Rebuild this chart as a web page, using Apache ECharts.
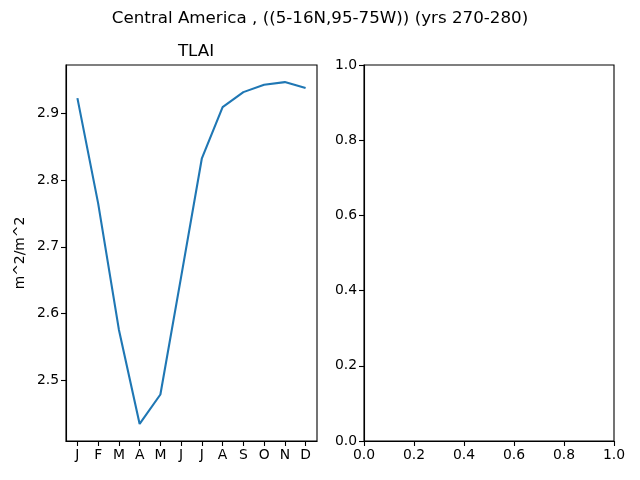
<!DOCTYPE html>
<html>
<head>
<meta charset="utf-8">
<script src="https://cdn.jsdelivr.net/npm/echarts@6/dist/echarts.min.js"></script>
<style>html,body{margin:0;padding:0;background:#fff}#c{width:640px;height:480px}</style>
</head>
<body>
<div id="c"></div>
<script>
const months = ['J','F','M','A','M','J','J','A','S','O','N','D'];
const tlai = [2.9225, 2.765, 2.576, 2.435, 2.479, 2.655, 2.8325, 2.909, 2.9315, 2.9425, 2.9465, 2.9375];
const leftYTicks = [2.5, 2.6, 2.7, 2.8, 2.9];
const rightTicks = [0.0, 0.2, 0.4, 0.6, 0.8, 1.0];
const suptitle = 'Central America , ((5-16N,95-75W)) (yrs 270-280)';
const panelTitle = 'TLAI';
const yUnit = 'm^2/m^2';

const FONT = 'DejaVu Sans';
const FS = 13.9;
const monthIdx = months.map((_, i) => i);
const lo = Math.min(...tlai), hi = Math.max(...tlai), pad = (hi - lo) * 0.05;

const chart = echarts.init(document.getElementById('c'), null, {renderer: 'canvas'});
const axisCommon = {
  axisLine: {show: true, onZero: false, lineStyle: {color: '#000', width: 1.1}},
  axisTick: {show: true, inside: false, length: 5, lineStyle: {color: '#000', width: 1.1}},
  axisLabel: {color: '#000', fontFamily: FONT, fontSize: FS, margin: 7},
  splitLine: {show: false}
};
chart.setOption({
  animation: false,
  backgroundColor: '#fff',
  title: [
    {text: suptitle, left: 'center', top: 4, textStyle: {fontFamily: FONT, fontSize: 16.7, fontWeight: 'normal', color: '#000', lineHeight: 20}},
    {text: panelTitle, left: 191, textAlign: 'center', top: 37, textStyle: {fontFamily: FONT, fontSize: 16.7, fontWeight: 'normal', color: '#000', lineHeight: 20}}
  ],
  grid: [
    {left: 66, top: 65, width: 251, height: 376, show: true, borderColor: '#000', borderWidth: 1.1, backgroundColor: 'transparent'},
    {left: 364, top: 65, width: 250, height: 376, show: true, borderColor: '#000', borderWidth: 1.1, backgroundColor: 'transparent'}
  ],
  xAxis: [
    Object.assign({}, axisCommon, {
      gridIndex: 0, type: 'value', min: -0.55, max: 11.55,
      axisTick: Object.assign({}, axisCommon.axisTick, {customValues: monthIdx}),
      axisLabel: Object.assign({}, axisCommon.axisLabel, {customValues: monthIdx, formatter: v => months[Math.round(v)]})
    }),
    Object.assign({}, axisCommon, {
      gridIndex: 1, type: 'value', min: 0, max: 1, interval: 0.2,
      axisLabel: Object.assign({}, axisCommon.axisLabel, {formatter: v => v.toFixed(1)})
    })
  ],
  yAxis: [
    Object.assign({}, axisCommon, {
      gridIndex: 0, type: 'value', min: lo - pad, max: hi + pad,
      axisTick: Object.assign({}, axisCommon.axisTick, {customValues: leftYTicks}),
      axisLabel: Object.assign({}, axisCommon.axisLabel, {customValues: leftYTicks, formatter: v => v.toFixed(1)}),
      name: yUnit, nameLocation: 'middle', nameGap: 39, nameRotate: 90,
      nameTextStyle: {color: '#000', fontFamily: FONT, fontSize: FS}
    }),
    Object.assign({}, axisCommon, {
      gridIndex: 1, type: 'value', min: 0, max: 1, interval: 0.2,
      axisLabel: Object.assign({}, axisCommon.axisLabel, {formatter: v => v.toFixed(1)})
    })
  ],
  series: [
    {type: 'line', xAxisIndex: 0, yAxisIndex: 0, data: tlai.map((v, i) => [i, v]), showSymbol: false, symbol: 'none',
     lineStyle: {color: '#1f77b4', width: 2.1}, itemStyle: {color: '#1f77b4'}},
    {type: 'line', xAxisIndex: 1, yAxisIndex: 1, data: [], showSymbol: false}
  ]
});
</script>
</body>
</html>
